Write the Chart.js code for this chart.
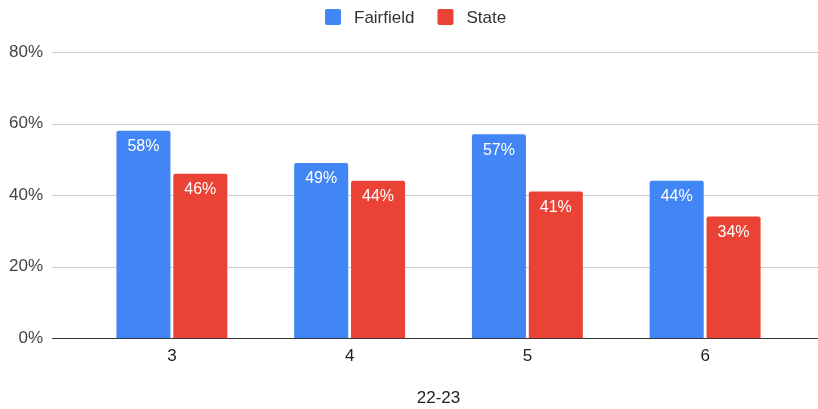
<!DOCTYPE html>
<html>
<head>
<meta charset="utf-8">
<script src="https://cdn.jsdelivr.net/npm/chart.js@4"></script>
<style>
  html, body { margin: 0; padding: 0; background: #fff; }
  #wrap { width: 818px; height: 409px; }
</style>
</head>
<body>
<div id="wrap"><canvas id="chart"></canvas></div>
<script>
// data
const grades = ['3', '4', '5', '6'];
const fairfield = [58, 49, 57, 44];
const stateVals = [46, 44, 41, 34];
const yTicks = [0, 20, 40, 60, 80];
const xTitle = '22-23';

const FONT = "'Liberation Sans', Arial, sans-serif";

// grid lines drawn across the full width, like the original
const fullGrid = {
  id: 'fullGrid',
  beforeDatasetsDraw(chart) {
    const ctx = chart.ctx;
    const y = chart.scales.y;
    ctx.save();
    yTicks.forEach(v => {
      const py = Math.round(y.getPixelForValue(v)) + 0.5;
      ctx.strokeStyle = v === 0 ? '#333333' : '#cccccc';
      ctx.lineWidth = 1;
      ctx.beginPath();
      ctx.moveTo(52, py);
      ctx.lineTo(chart.width, py);
      ctx.stroke();
    });
    ctx.restore();
  }
};

// white value labels inside the top of each bar
const barLabels = {
  id: 'barLabels',
  afterDatasetsDraw(chart) {
    const ctx = chart.ctx;
    ctx.save();
    ctx.font = '16px ' + FONT;
    ctx.fillStyle = '#ffffff';
    ctx.textAlign = 'center';
    ctx.textBaseline = 'middle';
    chart.data.datasets.forEach((ds, i) => {
      chart.getDatasetMeta(i).data.forEach((bar, j) => {
        ctx.fillText(ds.data[j] + '%', bar.x, bar.y + 16);
      });
    });
    ctx.restore();
  }
};

// legend at the top, spaced like the original
const topLegend = {
  id: 'topLegend',
  afterDraw(chart) {
    const ctx = chart.ctx;
    const box = 16, gapText = 13, gapItem = 23, cy = 17;
    ctx.save();
    ctx.font = '17px ' + FONT;
    ctx.textBaseline = 'middle';
    const items = chart.data.datasets.map(ds => ({ text: ds.label, color: ds.backgroundColor, w: ctx.measureText(ds.label).width }));
    let total = 0;
    items.forEach((it, i) => { total += box + gapText + it.w + (i ? gapItem : 0); });
    let x = Math.round(416 - total / 2);
    items.forEach(it => {
      ctx.fillStyle = it.color;
      ctx.beginPath();
      ctx.roundRect(x, cy - box / 2, box, box, 2);
      ctx.fill();
      ctx.fillStyle = '#333333';
      ctx.fillText(it.text, x + box + gapText, cy + 1);
      x += box + gapText + it.w + gapItem;
    });
    ctx.restore();
  }
};

new Chart(document.getElementById('chart'), {
  type: 'bar',
  data: {
    labels: grades,
    datasets: [
      { label: 'Fairfield', data: fairfield, backgroundColor: '#4285F4', borderRadius: 2, borderSkipped: 'bottom' },
      { label: 'State', data: stateVals, backgroundColor: '#EA4335', borderRadius: 2, borderSkipped: 'bottom' }
    ]
  },
  options: {
    responsive: true,
    maintainAspectRatio: false,
    animation: false,
    layout: { padding: { left: 0, right: 24, top: 52, bottom: 0 } },
    datasets: { bar: { categoryPercentage: 0.64, barPercentage: 0.95 } },
    plugins: {
      legend: { display: false },
      tooltip: { enabled: false }
    },
    scales: {
      x: {
        grid: { display: false, drawTicks: false },
        border: { display: false },
        ticks: { color: '#222222', font: { family: FONT, size: 17 }, padding: 8 },
        title: { display: true, text: xTitle, color: '#222222', font: { family: FONT, size: 17 }, padding: { top: 14, bottom: 0 } }
      },
      y: {
        min: 0, max: 80,
        afterBuildTicks: s => { s.ticks = yTicks.map(v => ({ value: v })); },
        afterFit: s => { s.width = 83; },
        grid: { display: false, drawTicks: false },
        border: { display: false },
        ticks: { color: '#444444', font: { family: FONT, size: 17 }, padding: 40, callback: v => v + '%' }
      }
    }
  },
  plugins: [fullGrid, barLabels, topLegend]
});
</script>
</body>
</html>
